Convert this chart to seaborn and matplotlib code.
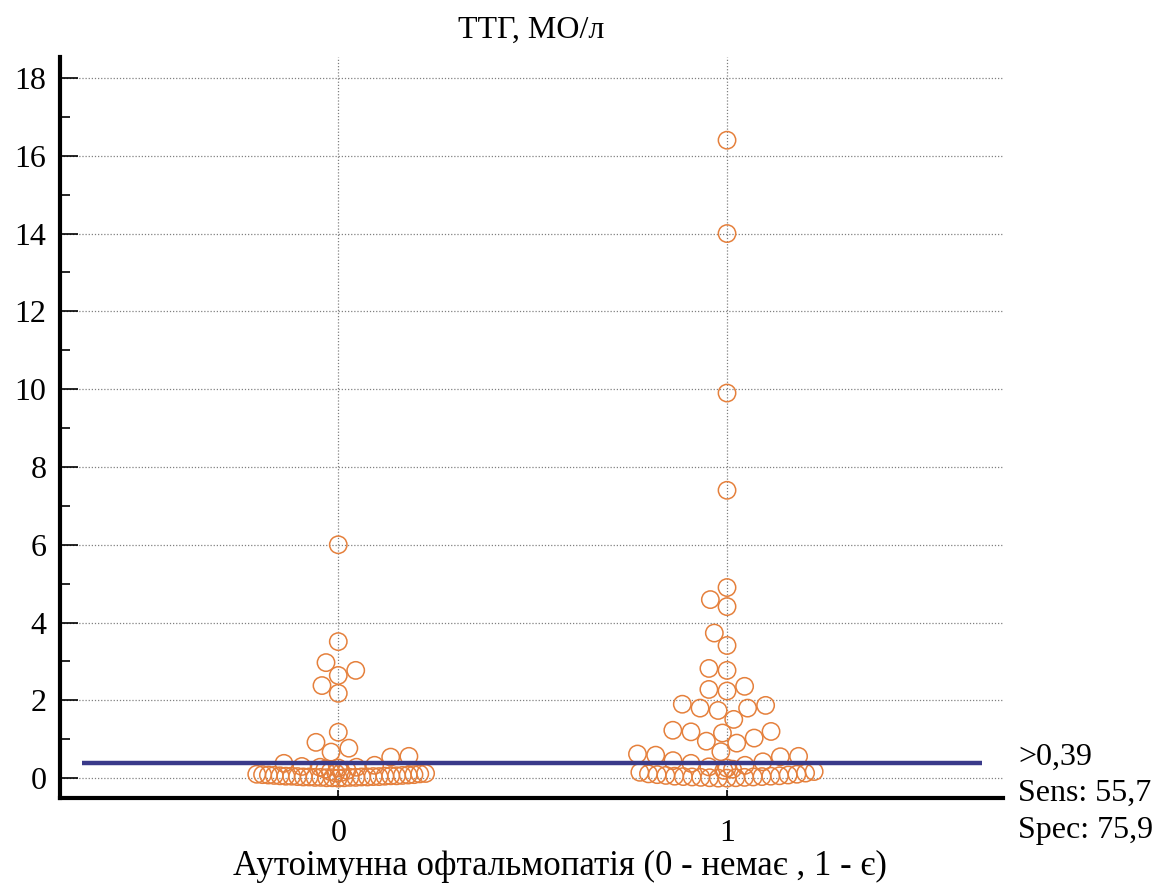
import numpy as np
import pandas as pd
import matplotlib
matplotlib.use("Agg")
import matplotlib.pyplot as plt
from matplotlib.ticker import MultipleLocator
import seaborn as sns

# ТТГ, МО/л по групах: 0 - немає офтальмопатії, 1 - є
groups = ["0", "1"]
ttg_0 = [6.0, 3.51, 2.97, 2.77, 2.64, 2.38, 2.18, 1.18, 0.92, 0.77, 0.67, 0.56, 0.54,
         0.38, 0.33, 0.30, 0.28, 0.28, 0.26,
         0.23, 0.20, 0.17, 0.15, 0.13, 0.12, 0.11, 0.10, 0.09, 0.09, 0.08, 0.08,
         0.07, 0.07, 0.06, 0.06, 0.06, 0.05, 0.05, 0.05, 0.04, 0.04, 0.04,
         0.03, 0.03, 0.03, 0.03, 0.02, 0.02, 0.02, 0.02, 0.01, 0.01, 0.01, 0.00]
ttg_1 = [16.4, 14.0, 9.9, 7.4, 4.9, 4.59, 4.41, 3.73, 3.41, 2.82, 2.77, 2.36, 2.28,
         2.24, 1.90, 1.87, 1.80, 1.80, 1.74, 1.51, 1.23, 1.20, 1.19, 1.16, 1.03,
         0.95, 0.90, 0.68, 0.62, 0.59, 0.56, 0.55, 0.45, 0.42,
         0.38, 0.33, 0.29, 0.26,
         0.23, 0.20, 0.17, 0.15, 0.13, 0.11, 0.10, 0.09, 0.08, 0.07, 0.06, 0.05,
         0.05, 0.04, 0.04, 0.03, 0.03, 0.02, 0.02, 0.01, 0.01, 0.00, 0.00]
cutoff = 0.39
cutoff_txt = ">0,39"
sens_txt = "Sens: 55,7"
spec_txt = "Spec: 75,9"

orange = "#E5803C"
navy = "#3A3A8A"

sns.set_theme(style="white")
plt.rcParams["font.family"] = ["Liberation Serif", "DejaVu Serif"]
plt.rcParams["text.color"] = "black"
plt.rcParams["axes.labelcolor"] = "black"

df = pd.DataFrame({"group": ["0"] * len(ttg_0) + ["1"] * len(ttg_1),
                   "ttg": ttg_0 + ttg_1})
# точки біля нуля у вихідному графіку стиснуті в щільний ряд
low = df[df["ttg"] < 0.25]
high = df[df["ttg"] >= 0.25]

fig = plt.figure(figsize=(11.6, 8.9), dpi=100)
ax = fig.add_axes([0.052, 0.1034, 0.8127, 0.8326])

msize = 12.5
sns.swarmplot(data=high, x="group", y="ttg", order=groups, size=msize, ax=ax)
# щільність ряду біля нуля різна для двох груп
sns.swarmplot(data=low[low["group"] == "0"], x="group", y="ttg", order=groups,
              size=4, ax=ax)
sns.swarmplot(data=low[low["group"] == "1"], x="group", y="ttg", order=groups,
              size=6, ax=ax)

ax.set_xlim(-0.715, 1.71)
ax.set_ylim(-0.51, 18.54)
ax.set_yticks(np.arange(0, 19, 2))
ax.yaxis.set_minor_locator(MultipleLocator(1))

# розкладка рою рахується при малюванні - фіксуємо її і збільшуємо кружки
fig.canvas.draw()
for coll in ax.collections:
    if "draw" in coll.__dict__:
        del coll.draw
    coll.set_sizes([msize ** 2])
    coll.set_facecolor("none")
    coll.set_edgecolor(orange)
    coll.set_linewidth(1.1)
    coll.set_zorder(2)

x0, x1 = ax.get_xlim()
ax.hlines(cutoff, x0 + 0.055, x1 - 0.055, color=navy, lw=3.2, zorder=3)

ax.set_axisbelow(True)
ax.grid(True, which="major", linestyle=(0, (1, 1.5)), color="#808080", lw=0.9)

for s in ["top", "right"]:
    ax.spines[s].set_visible(False)
for s in ["left", "bottom"]:
    ax.spines[s].set_linewidth(3)
    ax.spines[s].set_color("black")

ax.tick_params(axis="y", which="major", direction="in", length=13, width=1.2,
               pad=10, labelsize=23, colors="black", left=True)
ax.tick_params(axis="y", which="minor", direction="in", length=7, width=1.2,
               left=True, color="black")
ax.tick_params(axis="x", direction="in", length=6, width=1.2, pad=15,
               labelsize=23, colors="black", bottom=True)

ax.set_title("ТТГ, МО/л", fontsize=23, pad=14, color="black")
ax.set_ylabel("")
ax.set_xlabel("Аутоімунна офтальмопатія (0 - немає , 1 - є)", fontsize=25)
ax.xaxis.set_label_coords(0.53, -0.07)

fig.text(0.8776, 0.1494, cutoff_txt, fontsize=23, va="center", ha="left")
fig.text(0.8776, 0.1090, sens_txt, fontsize=23, va="center", ha="left")
fig.text(0.8776, 0.0674, spec_txt, fontsize=23, va="center", ha="left")

fig.savefig("out.png", dpi=100)
